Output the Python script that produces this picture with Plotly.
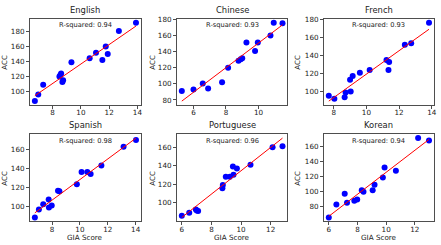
import numpy as np
import plotly.graph_objects as go

languages = ["English", "Chinese", "French", "Spanish", "Portuguese", "Korean"]
r2_labels = ["0.94", "0.93", "0.93", "0.98", "0.96", "0.94"]

english_x = [6.74, 6.98, 7.33, 8.48, 8.55, 8.60, 8.69, 8.74, 9.33, 10.62, 11.07, 11.52, 11.76, 11.90, 12.69, 13.90]
english_y = [86.7, 95.6, 108.9, 120.0, 122.0, 124.0, 112.4, 114.7, 139.0, 144.4, 152.0, 142.2, 160.4, 150.2, 181.3, 192.4]

chinese_x = [5.28, 6.00, 6.57, 6.90, 7.76, 8.13, 8.77, 8.91, 9.00, 9.26, 9.79, 9.96, 10.74, 10.94, 11.48]
chinese_y = [91.1, 93.1, 100.5, 94.3, 102.1, 120.2, 128.8, 130.8, 132.0, 151.7, 141.0, 151.7, 160.3, 176.3, 175.5]

french_x = [7.70, 8.04, 8.67, 8.73, 9.00, 9.04, 9.16, 9.60, 10.20, 11.23, 11.39, 11.35, 12.35, 12.74, 13.83]
french_y = [95.2, 91.9, 93.4, 98.9, 112.9, 100.0, 117.3, 120.7, 124.0, 135.0, 132.8, 124.0, 152.0, 153.9, 176.8]

spanish_x = [6.77, 7.06, 7.37, 7.76, 7.78, 7.98, 8.43, 8.53, 9.78, 10.12, 10.53, 10.77, 11.54, 13.13, 14.02]
spanish_y = [89.0, 97.2, 102.8, 107.6, 99.3, 101.4, 116.6, 116.2, 123.4, 136.2, 136.2, 134.1, 142.8, 162.4, 169.3]

portuguese_x = [6.00, 6.50, 6.95, 7.01, 7.10, 8.74, 8.77, 8.97, 9.24, 9.45, 9.49, 9.72, 10.64, 12.13, 12.80]
portuguese_y = [86.1, 89.3, 92.9, 91.8, 91.1, 115.7, 119.3, 128.2, 128.2, 139.3, 130.4, 137.1, 141.0, 160.0, 161.0]

korean_x = [6.00, 6.53, 7.11, 7.27, 7.78, 7.98, 8.30, 8.42, 9.06, 9.19, 9.77, 9.89, 10.68, 12.23, 12.99]
korean_y = [65.9, 83.1, 97.1, 85.3, 87.9, 89.7, 101.8, 99.6, 101.8, 109.0, 118.7, 131.9, 127.5, 170.5, 167.5]

xs = [english_x, chinese_x, french_x, spanish_x, portuguese_x, korean_x]
ys = [english_y, chinese_y, french_y, spanish_y, portuguese_y, korean_y]

W, H = 441, 245
col_px = [(30, 142), (178, 289.5), (326, 437)]
row_px = [(15, 102.7), (132.3, 221)]
ylab_px = [5, 154, 300]

FONT = "DejaVu Sans"
fig = go.Figure()
annotations = []

for i, lang in enumerate(languages):
    r, c = divmod(i, 3)
    n = i + 1
    xa = "x" if n == 1 else f"x{n}"
    ya = "y" if n == 1 else f"y{n}"
    x = np.array(xs[i]); y = np.array(ys[i])
    slope, icpt = np.polyfit(x, y, 1)
    xl = np.array([x.min(), x.max()])
    fig.add_trace(go.Scatter(x=x, y=y, mode="markers", xaxis=xa, yaxis=ya,
                             marker=dict(color="#0000ff", size=6, line=dict(width=0)),
                             showlegend=False, hoverinfo="skip"))
    fig.add_trace(go.Scatter(x=xl, y=slope * xl + icpt, mode="lines", xaxis=xa, yaxis=ya,
                             line=dict(color="#ff0000", width=1), showlegend=False, hoverinfo="skip"))
    xpad = (x.max() - x.min()) * 0.05
    ymin = min(y.min(), (slope * xl + icpt).min()); ymax = max(y.max(), (slope * xl + icpt).max())
    ypad = (ymax - ymin) * 0.05
    x0, x1 = col_px[c]; y0, y1 = row_px[r]
    axcommon = dict(showline=True, mirror=True, linecolor="#222", linewidth=0.8,
                    ticks="outside", ticklen=3, tickwidth=0.8, tickcolor="#222",
                    showgrid=False, zeroline=False,
                    tickfont=dict(family=FONT, size=7.2, color="#222"))
    fig.layout[("xaxis" if n == 1 else f"xaxis{n}")] = dict(
        domain=[x0 / W, x1 / W], anchor=ya, range=[x.min() - xpad, x.max() + xpad],
        dtick=2, tick0=0, ticklabelstandoff=-2, **axcommon)
    fig.layout[("yaxis" if n == 1 else f"yaxis{n}")] = dict(
        domain=[1 - y1 / H, 1 - y0 / H], anchor=xa, range=[ymin - ypad, ymax + ypad],
        dtick=20, tick0=0, **axcommon)
    # title
    annotations.append(dict(text=lang, x=(x0 + x1) / 2 / W, y=1 - (y0 - 2) / H, xref="paper", yref="paper",
                            xanchor="center", yanchor="bottom", showarrow=False,
                            font=dict(family=FONT, size=8.4, color="#222")))
    # R-squared
    annotations.append(dict(text=f"R-squared: {r2_labels[i]}", x=0.5, y=0.925,
                            xref=f"{xa} domain", yref=f"{ya} domain",
                            xanchor="center", yanchor="middle", showarrow=False,
                            font=dict(family=FONT, size=6.7, color="#222")))
    # y label
    annotations.append(dict(text="ACC", x=ylab_px[c] / W, y=1 - (y0 + y1) / 2 / H,
                            xref="paper", yref="paper", textangle=-90,
                            xanchor="center", yanchor="middle", showarrow=False,
                            font=dict(family=FONT, size=7.2, color="#222")))
    # x label (bottom row)
    if r == 1:
        annotations.append(dict(text="GIA Score", x=(x0 + x1) / 2 / W, y=1 - 237.5 / H,
                                xref="paper", yref="paper",
                                xanchor="center", yanchor="middle", showarrow=False,
                                font=dict(family=FONT, size=7.2, color="#222")))

fig.update_layout(width=W, height=H, margin=dict(l=0, r=0, t=0, b=0),
                  paper_bgcolor="white", plot_bgcolor="white", annotations=annotations,
                  font=dict(family=FONT), hovermode=False)
fig.write_html("out.html", config={"displayModeBar": False, "staticPlot": True})

# remove the default page margin so the figure sits at the window's corner
with open("out.html", "r", encoding="utf-8") as f:
    html = f.read()
html = html.replace("<body>", '<body style="margin:0;padding:0;overflow:hidden">', 1)
with open("out.html", "w", encoding="utf-8") as f:
    f.write(html)
